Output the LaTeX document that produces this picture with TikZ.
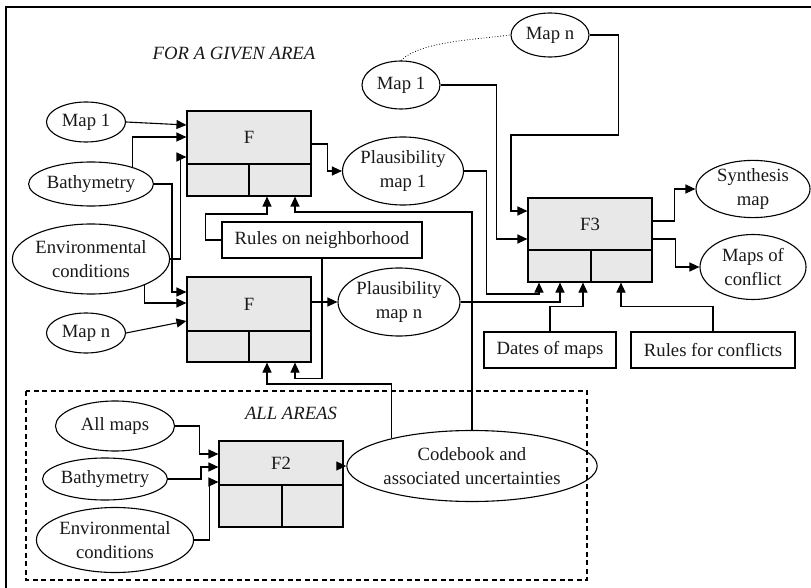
\documentclass[tikz,border=0pt]{standalone}
\usepackage{fontspec}
\setmainfont{Liberation Serif}
\usetikzlibrary{shapes.geometric,arrows.meta,calc}
\begin{document}
\begin{tikzpicture}[x=1pt,y=-1pt, line width=1.1pt,
  every node/.style={font=\fontsize{18.7}{23.5}\selectfont, text=black!90},
  oval/.style={draw, ellipse, inner sep=0pt, align=center},
  fbox/.style={draw, fill=black!9, minimum width=124pt, inner sep=0pt},
  rbox/.style={draw, rectangle, inner sep=0pt, align=center},
  ital/.style={font=\fontsize{18.7}{23.5}\selectfont\itshape},
  arr/.style={-{Triangle[length=10pt,width=9pt]}}]
\useasboundingbox (0,0) rectangle (811,588);
\fill[white] (0,0) rectangle (811,588);
% frame
\draw[line width=1.6pt] (6,590) -- (6,7) -- (813,7);
% dashed area
\draw[dashed, dash pattern=on 5pt off 3.5pt] (26,391) rectangle (587,580);

% titles
\node[ital] (tgiven) at (234,53) {FOR A GIVEN AREA};
\node[ital] (tall) at (291,413) {ALL AREAS};

% F boxes
\node[fbox, minimum height=85pt] (F1) at (249,153.5) {};
\node[fbox, minimum height=85pt] (F1n) at (249,319.5) {};
\node[fbox, minimum height=86pt] (F2) at (281,484) {};
\node[fbox, minimum height=84pt] (F3) at (590,240) {};
\draw (F1.west |- 0,164) -- (F1.east |- 0,164) (249,164) -- (F1.south -| 249,0);
\draw (F1n.west |- 0,331) -- (F1n.east |- 0,331) (249,331) -- (F1n.south -| 249,0);
\draw (F2.west |- 0,485) -- (F2.east |- 0,485) (282,485) -- (F2.south -| 282,0);
\draw (F3.west |- 0,250) -- (F3.east |- 0,250) (591,250) -- (F3.south -| 591,0);
\node (lF1) at (249,137) {F};
\node (lF1n) at (249,304) {F};
\node (lF2) at (281,463) {F2};
\node (lF3) at (590,224) {F3};

% ovals
\node[oval, minimum width=79pt, minimum height=40pt] (map1a) at (86,122) {Map 1};
\node[oval, minimum width=122pt, minimum height=44pt] (bathya) at (91,184) {Bathymetry};
\node[oval, minimum width=150pt, minimum height=70pt] (enva) at (91,259) {Environmental\\conditions};
\node[oval, minimum width=79pt, minimum height=40pt] (mapna) at (86,333) {Map n};
\node[oval, minimum width=121pt, minimum height=68pt] (pm1) at (403,171) {Plausibility\\map 1};
\node[oval, minimum width=122pt, minimum height=68pt] (pmn) at (399,302) {Plausibility\\map n};
\node[oval, minimum width=205pt, minimum height=71pt] (code) at (472,466) {Codebook and\\associated uncertainties};
\node[oval, minimum width=119pt, minimum height=50pt] (allmaps) at (115,426) {All maps};
\node[oval, minimum width=119pt, minimum height=42pt] (bathyb) at (105,479) {Bathymetry};
\node[oval, minimum width=148pt, minimum height=65pt] (envb) at (115,540) {Environmental\\conditions};
\node[oval, minimum width=78pt, minimum height=44pt] (mapnb) at (550,35) {Map n};
\node[oval, minimum width=78pt, minimum height=48pt] (map1b) at (401,85) {Map 1};
\node[oval, minimum width=114pt, minimum height=52pt] (synth) at (753,189) {Synthesis\\map};
\node[oval, minimum width=106pt, minimum height=65pt] (conf) at (753,267) {Maps of\\conflict};

% rectangles
\node[rbox, minimum width=200pt, minimum height=36pt] (rulesn) at (322,240) {Rules on neighborhood};
\node[rbox, minimum width=132pt, minimum height=36pt] (dates) at (550,350) {Dates of maps};
\node[rbox, minimum width=164pt, minimum height=36pt] (rulesc) at (713,350) {Rules for conflicts};

% dotted link
\draw[dotted, line width=0.8pt] (map1b.north) .. controls (420,42) and (470,40) .. (mapnb.west);

% inputs to F1
\draw[arr] (map1a.east) -- (F1.west |- 0,125);
\draw[arr] (bathya.22) |- (F1.west |- 0,137);
\draw[arr] (enva.east) -- ++(10,0) |- (F1.west |- 0,157);
% inputs to F (n)
\draw[arr] (bathya.east) -- ++(18,0) |- (F1n.west |- 0,292);
\draw[arr] (enva.-26) |- (F1n.west |- 0,303);
\draw[arr] (mapna.east) -- (F1n.west |- 0,321);
% outputs of F boxes
\draw[arr] (F1.east |- 0,144) -- ++(16,0) |- (pm1.west);
\draw[arr] (F1n.east |- pmn.west) -- (pmn.west);
% rules on neighborhood
\draw[arr] (rulesn.west) -- ++(-16,0) -- ++(0,-26) -| (F1.south -| 267,0);
\draw[arr] (rulesn.south) -- ++(0,120) -| (F1n.south -| 295,0);
% codebook
\draw[arr] (code.north) -- (code.north |- 0,212) -| (F1.south -| 295,0);
\draw[arr] (code.161) -- (code.161 |- 0,384) -| (F1n.south -| 267,0);
% F2
\draw[arr] (allmaps.east) -- ++(24,0) |- (F2.west |- 0,454);
\draw[arr] (bathyb.east) -- ++(33,0) |- (F2.west |- 0,467);
\draw[arr] (envb.east) -- ++(15,0) |- (F2.west |- 0,482);
\draw[arr] (F2.east |- code.west) -- (code.west);
% F3 inputs
\draw[arr] (mapnb.east) -- ++(29,0) -- ++(0,100) -| (511,211) -- (F3.west |- 0,211);
\draw[arr] (map1b.east) -- ++(56,0) |- (F3.west |- 0,239);
\draw[arr] (pm1.east) -- ++(22.5,0) -- ++(0,123) -| (F3.south -| 539,0);
\draw[arr] (pmn.east) -| (F3.south -| 560,0);
\draw[arr] (dates.north) -- ++(0,-25) -| (F3.south -| 583,0);
\draw[arr] (rulesc.north) -- ++(0,-25) -| (F3.south -| 621,0);
% F3 outputs
\draw[arr] (F3.east |- 0,221) -- ++(22,0) |- (synth.west);
\draw[arr] (F3.east |- 0,239) -- ++(23,0) |- (conf.west);
\end{tikzpicture}
\end{document}
